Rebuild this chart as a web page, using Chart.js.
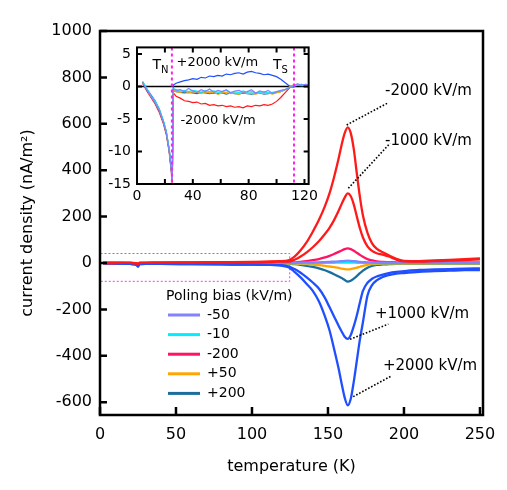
<!DOCTYPE html>
<html>
<head>
<meta charset="utf-8">
<script src="https://cdn.jsdelivr.net/npm/chart.js@4.4.1/dist/chart.umd.min.js"></script>
<style>
  body { margin: 0; background: #fff; }
  #wrap { position: relative; width: 507px; height: 490px; }
  #main { position: absolute; left: 0; top: 0; }
  #inset { position: absolute; left: 102px; top: 33px; }
</style>
</head>
<body>
<div id="wrap">
  <canvas id="main" width="507" height="490"></canvas>
  <canvas id="inset" width="220" height="180"></canvas>
</div>
<script>
// main panel: temperature (K) vs current density (nA/m^2)
var tempMain = [2, 5, 10, 15, 20, 24, 25, 26, 30, 40, 60, 80, 100, 110, 118,
  124, 128, 132, 136, 140, 144, 148, 151, 154, 157, 159, 161, 163, 165, 167,
  169, 171, 173, 176, 179, 182, 186, 190, 195, 200, 210, 220, 230, 240, 250];

var curM2000 = [0, 0, 0, 1, 1, -2, -4, 1, 1, 2, 3, 4, 5, 6, 8,
  12, 28, 55, 90, 135, 185, 245, 300, 370, 450, 510, 560, 585, 560, 490,
  385, 285, 205, 130, 85, 62, 46, 33, 18, 9, 8, 11, 14, 17, 20];
var curM1000 = [0, 0, 0, 1, 1, -2, -4, 1, 1, 2, 2, 3, 4, 5, 6,
  6, 14, 28, 46, 68, 94, 125, 152, 185, 225, 255, 282, 300, 288, 252,
  200, 150, 110, 72, 52, 42, 36, 28, 15, 7, 6, 8, 10, 13, 16];
var curP1000 = [0, -1, -2, -3, -4, -8, -15, -5, -4, -4, -5, -6, -7, -8, -9,
  -14, -26, -42, -62, -84, -110, -150, -190, -230, -270, -295, -318, -327, -310, -272,
  -225, -170, -120, -85, -68, -58, -50, -43, -38, -35, -30, -28, -26, -24, -23];
var curP2000 = [0, -1, -2, -3, -4, -8, -15, -5, -4, -4, -5, -6, -7, -8, -10,
  -18, -38, -62, -90, -120, -165, -230, -290, -370, -455, -520, -580, -613, -585, -510,
  -420, -330, -255, -140, -95, -75, -60, -52, -46, -43, -38, -35, -33, -31, -30];
var curM50 = [0, 0, 0, 0, 0, -1, -3, 0, 0, 0, 0, 1, 1, 1, 1,
  1, 1, 1, 2, 2, 3, 4, 5, 6, 7, 8, 9, 10, 9, 8,
  7, 5, 4, 3, 2, 1, 1, 1, 1, 1, 1, 1, 1, 1, 1];
var curM10 = [0, 0, 0, 0, 0, -1, -3, 0, 0, 0, 0, 0, 0, 0, 0,
  0, 0, 0, 0, 0, 1, 1, 1, 1, 2, 2, 2, 2, 2, 2,
  1, 1, 1, 1, 0, 0, 0, 0, 0, 0, 0, 0, 0, 0, 0];
var curM200 = [0, 0, 0, 0, 1, -1, -3, 0, 1, 1, 1, 2, 2, 2, 2,
  2, 3, 5, 8, 12, 17, 24, 31, 39, 48, 54, 60, 63, 60, 53,
  44, 35, 27, 17, 11, 7, 5, 4, 3, 2, 2, 2, 3, 3, 3];
var curP50 = [0, 0, 0, 0, -1, -2, -4, -1, -1, -1, -1, -1, -2, -2, -2,
  -2, -3, -4, -5, -7, -9, -12, -15, -18, -21, -24, -26, -27, -26, -23,
  -20, -16, -12, -8, -5, -4, -3, -3, -2, -2, -2, -2, -2, -2, -2];
var curP200 = [0, 0, 0, 0, -1, -2, -4, -1, -1, -1, -2, -2, -2, -3, -3,
  -3, -5, -8, -12, -17, -23, -31, -39, -48, -58, -65, -73, -80, -76, -67,
  -56, -44, -33, -20, -12, -8, -6, -5, -4, -4, -4, -4, -4, -4, -4];

var mainXTicks = [0, 50, 100, 150, 200, 250];
var mainYTicks = [-600, -400, -200, 0, 200, 400, 600, 800, 1000];

// inset: zoom on the low temperature part
var tempInset = [4, 7, 10, 13, 16, 19, 21, 23, 24.5, 25.3,
  26, 28, 31, 34, 37, 40, 43, 46, 49, 52,
  55, 58, 61, 64, 67, 70, 73, 76, 79, 82,
  85, 88, 91, 94, 97, 100, 103, 106, 109, 112,
  115, 118, 121, 124];
var insP2000 = [0.7, -0.4, -1.3, -2.2, -3.5, -5.4, -7.0, -9.6, -12.4, -14.3,
  0.2, 0.5, 0.7, 0.9, 1.0, 1.2, 1.1, 1.4, 1.3, 1.6,
  1.5, 1.7, 1.6, 1.9, 1.8, 2.0, 2.1, 1.9, 2.2, 2.3,
  2.1, 2.0, 1.8, 1.9, 1.7, 1.5, 1.1, 0.6, 0.1, -0.1,
  0.2, 0.3, 0.1, 0.2];
var insM2000 = [0.5, -0.7, -1.7, -2.7, -4.0, -5.8, -7.4, -10.0, -13.0, -14.8,
  -1.0, -1.5, -1.8, -2.2, -2.3, -2.5, -2.4, -2.7, -2.6, -2.9,
  -2.8, -3.0, -2.9, -3.1, -3.0, -3.2, -3.1, -3.3, -3.0, -3.1,
  -2.9, -3.0, -2.8, -2.9, -2.7, -2.3, -1.7, -1.0, -0.3, 0.2,
  0.3, 0.2, 0.1, 0.2];
var insM50 = [0.6, -0.5, -1.5, -2.5, -3.7, -5.5, -7.1, -9.7, -12.6, -14.4,
  -0.4, -0.6, -0.5, -0.8, -0.3, -0.7, -0.9, -0.5, -0.8, -0.4,
  -0.9, -0.6, -0.8, -0.5, -1.0, -0.7, -0.6, -0.9, -0.8, -0.5,
  -1.0, -0.7, -0.9, -0.6, -1.1, -0.8, -0.6, -0.5, -0.2, 0.1,
  0.4, 0.2, 0.3, 0.1];
var insM10 = [0.8, -0.3, -1.4, -2.3, -3.5, -5.3, -6.9, -9.5, -12.2, -14.2,
  -0.3, -0.5, -0.7, -0.6, -0.8, -0.6, -0.7, -0.9, -0.6, -0.8,
  -0.7, -0.9, -0.8, -0.6, -0.9, -0.8, -1.0, -0.7, -0.9, -0.8,
  -1.0, -0.9, -0.8, -1.0, -0.9, -0.8, -0.7, -0.5, -0.2, 0.1,
  0.2, 0.3, 0.1, 0.2];
var insP50 = [0.6, -0.4, -1.5, -2.4, -3.6, -5.5, -7.0, -9.6, -12.5, -14.4,
  -0.6, -0.8, -0.9, -0.7, -1.0, -0.8, -0.9, -1.1, -0.8, -1.0,
  -0.9, -1.2, -1.0, -0.9, -1.1, -1.0, -1.2, -0.9, -1.1, -1.0,
  -1.2, -1.0, -1.1, -1.0, -1.2, -1.0, -0.8, -0.5, -0.1, 0.2,
  0.3, 0.2, 0.3, 0.2];
var insP200 = [0.6, -0.5, -1.5, -2.5, -3.7, -5.6, -7.2, -9.8, -12.7, -14.5,
  -0.7, -0.8, -0.9, -1.0, -0.9, -1.0, -1.1, -0.9, -1.0, -1.1,
  -1.0, -1.1, -1.0, -1.2, -1.0, -1.1, -1.2, -1.0, -1.1, -1.2,
  -1.1, -1.0, -1.2, -1.1, -1.0, -0.9, -0.8, -0.5, -0.2, 0.1,
  0.2, 0.1, 0.2, 0.1];

var insetXTicks = [0, 20, 40, 60, 80, 100, 120];
var insetYTicks = [-15, -10, -5, 0, 5];
var tempNeel = 25;
var tempS = 112.5;

var legendTitle = 'Poling bias (kV/m)';

var RED = '#ff1a1a', BLUE = '#1f4fff', LAV = '#8282ff', CYAN = '#00eeff',
    PINK = '#ff1464', ORANGE = '#ffa500', TEAL = '#1a6e9e';
var FONT = 'DejaVu Sans';

function line(label, xs, ys, color, width, smooth, inLegend) {
  return {
    label: label,
    data: xs.map(function (t, i) { return { x: t, y: ys[i] }; }),
    borderColor: color,
    borderWidth: width,
    pointRadius: 0,
    fill: false,
    cubicInterpolationMode: smooth ? 'monotone' : 'default',
    tension: 0,
    inLegend: inLegend
  };
}

var mainSets = [
  line('-2000', tempMain, curM2000, RED, 2.3, true, false),
  line('-1000', tempMain, curM1000, RED, 2.3, true, false),
  line('+1000', tempMain, curP1000, BLUE, 2.3, true, false),
  line('+2000', tempMain, curP2000, BLUE, 2.3, true, false),
  line('-50', tempMain, curM50, LAV, 2.3, true, true),
  line('-10', tempMain, curM10, CYAN, 2.3, true, true),
  line('-200', tempMain, curM200, PINK, 2.3, true, true),
  line('+50', tempMain, curP50, ORANGE, 2.3, true, true),
  line('+200', tempMain, curP200, TEAL, 2.3, true, true)
];

var insetSets = [
  line('-50', tempInset, insM50, LAV, 1.2, false, false),
  line('-10', tempInset, insM10, CYAN, 1.2, false, false),
  line('+50', tempInset, insP50, ORANGE, 1.2, false, false),
  line('+200', tempInset, insP200, TEAL, 1.2, false, false),
  line('+2000', tempInset, insP2000, BLUE, 1.2, false, false),
  line('-2000', tempInset, insM2000, RED, 1.2, false, false)
];

function dotted(ctx, x0, y0, x1, y1) {
  ctx.save();
  ctx.strokeStyle = '#000';
  ctx.lineWidth = 1.6;
  ctx.setLineDash([1.6, 1.8]);
  ctx.beginPath();
  ctx.moveTo(x0, y0);
  ctx.lineTo(x1, y1);
  ctx.stroke();
  ctx.restore();
}

var mainDecor = {
  id: 'mainDecor',
  beforeDatasetsDraw: function (chart) {
    var ctx = chart.ctx, xs = chart.scales.x, ys = chart.scales.y;
    ctx.save();
    ctx.strokeStyle = '#ff33ff';
    ctx.lineWidth = 1;
    ctx.setLineDash([2, 2]);
    var x0 = xs.getPixelForValue(0), x1 = xs.getPixelForValue(124.5);
    var y0 = ys.getPixelForValue(45), y1 = ys.getPixelForValue(-75);
    ctx.strokeRect(x0 + 0.5, Math.round(y0) + 0.5, x1 - x0, y1 - y0);
    ctx.restore();
  },
  afterDraw: function (chart) {
    var ctx = chart.ctx, a = chart.chartArea;
    var xs = chart.scales.x, ys = chart.scales.y;
    ctx.save();
    // frame
    ctx.strokeStyle = '#000';
    ctx.lineWidth = 2.5;
    ctx.strokeRect(a.left, a.top, a.right - a.left, a.bottom - a.top);
    // inward tick marks
    ctx.beginPath();
    mainXTicks.forEach(function (v) {
      var x = xs.getPixelForValue(v);
      ctx.moveTo(x, a.bottom);
      ctx.lineTo(x, a.bottom - 8);
    });
    mainYTicks.forEach(function (v) {
      var y = ys.getPixelForValue(v);
      ctx.moveTo(a.left, y);
      ctx.lineTo(a.left + 7, y);
    });
    ctx.stroke();

    // labels with dotted leaders
    var notes = [
      ['-2000 kV/m', 162.3, 595, 189.7, 691, 187.5, 741],
      ['-1000 kV/m', 163.4, 322, 190.8, 516, 187.5, 526],
      ['+1000 kV/m', 164.5, -329, 189.7, -263, 180.9, -220],
      ['+2000 kV/m', 166.6, -576, 191.9, -486, 186.2, -444]
    ];
    ctx.font = '15px "' + FONT + '"';
    ctx.fillStyle = '#000';
    ctx.textAlign = 'left';
    ctx.textBaseline = 'middle';
    notes.forEach(function (n) {
      dotted(ctx, xs.getPixelForValue(n[1]), ys.getPixelForValue(n[2]),
        xs.getPixelForValue(n[3]), ys.getPixelForValue(n[4]));
      ctx.fillText(n[0], xs.getPixelForValue(n[5]), ys.getPixelForValue(n[6]));
    });

    // legend inside the plot
    ctx.font = '14px "' + FONT + '"';
    ctx.fillText(legendTitle, 166, 296);
    var items = chart.data.datasets.filter(function (d) { return d.inLegend; });
    items.forEach(function (d, i) {
      var y = 315 + i * 19.6;
      ctx.strokeStyle = d.borderColor;
      ctx.lineWidth = 3;
      ctx.beginPath();
      ctx.moveTo(168, y);
      ctx.lineTo(200, y);
      ctx.stroke();
      ctx.fillText(d.label, 207, y);
    });
    ctx.restore();
  }
};

var insetDecor = {
  id: 'insetDecor',
  beforeDatasetsDraw: function (chart) {
    var ctx = chart.ctx, a = chart.chartArea, ys = chart.scales.y;
    var y0 = ys.getPixelForValue(0);
    ctx.save();
    ctx.strokeStyle = '#000';
    ctx.lineWidth = 1.6;
    ctx.beginPath();
    ctx.moveTo(a.left, y0);
    ctx.lineTo(a.right, y0);
    ctx.stroke();
    ctx.restore();
  },
  afterDatasetsDraw: function (chart) {
    var ctx = chart.ctx, a = chart.chartArea, xs = chart.scales.x;
    ctx.save();
    ctx.strokeStyle = '#ff22ee';
    ctx.lineWidth = 2;
    ctx.setLineDash([3, 3]);
    ctx.beginPath();
    [tempNeel, tempS].forEach(function (t) {
      var x = xs.getPixelForValue(t);
      ctx.moveTo(x, a.top);
      ctx.lineTo(x, a.bottom);
    });
    ctx.stroke();
    ctx.restore();
  },
  afterDraw: function (chart) {
    var ctx = chart.ctx, a = chart.chartArea;
    var xs = chart.scales.x, ys = chart.scales.y;
    ctx.save();
    ctx.strokeStyle = '#000';
    ctx.lineWidth = 2;
    ctx.strokeRect(a.left, a.top, a.right - a.left, a.bottom - a.top);
    ctx.beginPath();
    insetXTicks.forEach(function (v) {
      var x = xs.getPixelForValue(v);
      ctx.moveTo(x, a.bottom);
      ctx.lineTo(x, a.bottom - 5);
      ctx.moveTo(x, a.top);
      ctx.lineTo(x, a.top + 5);
    });
    insetYTicks.forEach(function (v) {
      var y = ys.getPixelForValue(v);
      ctx.moveTo(a.left, y);
      ctx.lineTo(a.left + 5, y);
      ctx.moveTo(a.right, y);
      ctx.lineTo(a.right - 5, y);
    });
    ctx.stroke();

    ctx.fillStyle = '#000';
    ctx.textAlign = 'left';
    ctx.textBaseline = 'middle';
    ctx.font = '13px "' + FONT + '"';
    ctx.fillText('+2000 kV/m', xs.getPixelForValue(28.3), ys.getPixelForValue(3.7));
    ctx.fillText('-2000 kV/m', xs.getPixelForValue(31.1), ys.getPixelForValue(-5.2));
    // T_N and T_S with subscripts
    [['N', 11.1], ['S', 97.4]].forEach(function (p) {
      var x = xs.getPixelForValue(p[1]), y = ys.getPixelForValue(3.2);
      ctx.font = '14px "' + FONT + '"';
      ctx.fillText('T', x, y);
      var w = ctx.measureText('T').width;
      ctx.font = '10px "' + FONT + '"';
      ctx.fillText(p[0], x + w, y + 5);
    });
    ctx.restore();
  }
};

var tickFont = { family: FONT, size: 16 };
function plain(v) { return String(v); }

new Chart(document.getElementById('main'), {
  type: 'line',
  data: { datasets: mainSets },
  options: {
    responsive: false,
    animation: false,
    events: [],
    layout: { padding: { left: 0, top: 31, right: 24, bottom: 0 } },
    plugins: { legend: { display: false }, tooltip: { enabled: false } },
    scales: {
      x: {
        type: 'linear', min: 0, max: 252,
        afterBuildTicks: function (s) { s.ticks = mainXTicks.map(function (v) { return { value: v }; }); },
        afterFit: function (s) { s.height = 75; },
        grid: { display: false, drawTicks: false },
        border: { display: false },
        ticks: { padding: 10, color: '#000', font: tickFont, maxRotation: 0, autoSkip: false, callback: plain },
        title: { display: true, text: 'temperature (K)', color: '#000', font: tickFont,
                 padding: { top: 0, bottom: 14 } }
      },
      y: {
        type: 'linear', min: -655, max: 1000,
        afterBuildTicks: function (s) { s.ticks = mainYTicks.map(function (v) { return { value: v }; }); },
        afterFit: function (s) { s.width = 100; },
        grid: { display: false, drawTicks: false },
        border: { display: false },
        ticks: { padding: 8, color: '#000', font: tickFont, autoSkip: false, callback: plain },
        title: { display: true, text: 'current density (nA/m\u00b2)', color: '#000', font: tickFont,
                 padding: { top: 18, bottom: 0 } }
      }
    }
  },
  plugins: [mainDecor]
});

var insetFont = { family: FONT, size: 14 };

new Chart(document.getElementById('inset'), {
  type: 'line',
  data: { datasets: insetSets },
  options: {
    responsive: false,
    animation: false,
    events: [],
    layout: { padding: { left: 0, top: 11, right: 7, bottom: 0 } },
    plugins: { legend: { display: false }, tooltip: { enabled: false } },
    scales: {
      x: {
        type: 'linear', min: 0, max: 123,
        afterBuildTicks: function (s) { s.ticks = insetXTicks.map(function (v) { return { value: v }; }); },
        afterFit: function (s) { s.height = 29; },
        grid: { display: false, drawTicks: false },
        border: { display: false },
        ticks: { padding: 4, color: '#000', font: insetFont, maxRotation: 0, autoSkip: false,
                 callback: function (v) { return v % 40 === 0 ? String(v) : ''; } }
      },
      y: {
        type: 'linear', min: -15, max: 6,
        afterBuildTicks: function (s) { s.ticks = insetYTicks.map(function (v) { return { value: v }; }); },
        afterFit: function (s) { s.width = 35; },
        grid: { display: false, drawTicks: false },
        border: { display: false },
        ticks: { padding: 6, color: '#000', font: insetFont, autoSkip: false, callback: plain }
      }
    }
  },
  plugins: [insetDecor]
});
</script>
</body>
</html>
